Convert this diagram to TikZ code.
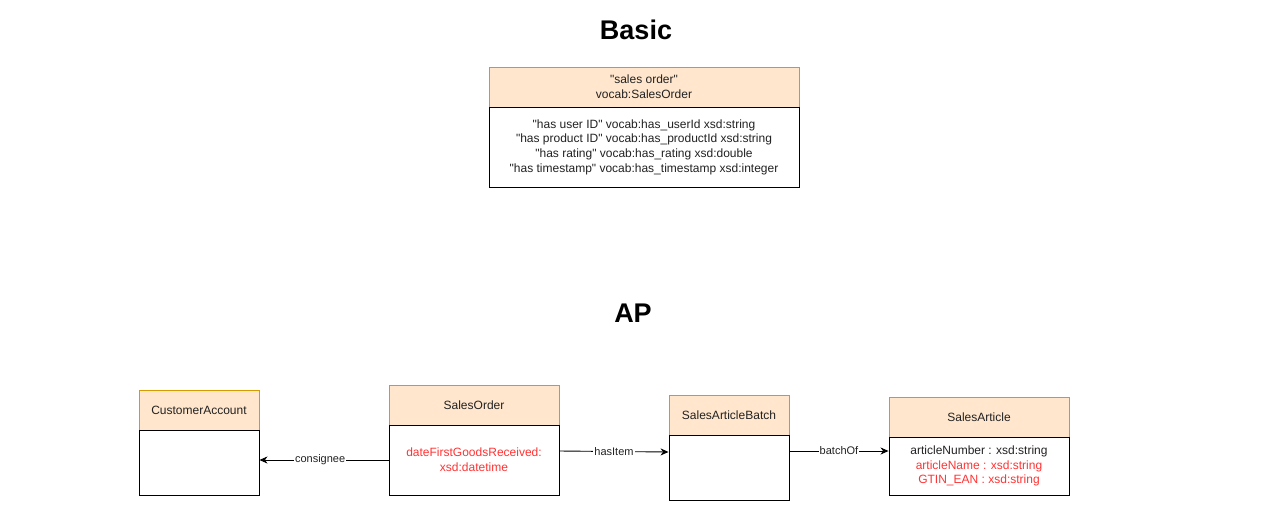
\documentclass[tikz,border=0pt]{standalone}
\usepackage{fontspec}
\newfontfamily\arialf{Liberation Sans}
\setmainfont{Liberation Sans}
\usetikzlibrary{arrows.meta}
\definecolor{hdrfill}{HTML}{FFE6CC}
\definecolor{hdrline}{HTML}{D79B00}
\definecolor{redtxt}{HTML}{FF3333}
\definecolor{txt}{HTML}{222222}
\begin{document}
\begin{tikzpicture}[x=1pt,y=-1pt,
  hdr/.style={draw=hdrline,fill=hdrfill,line width=0.9pt,inner sep=0pt,align=center,text=txt,
    font=\arialf\fontsize{12}{15}\selectfont},
  bodybox/.style={draw=black,fill=white,line width=0.9pt,inner sep=0pt,align=center,text=txt,
    font=\arialf\fontsize{12}{14.6}\selectfont},
  ttl/.style={font=\arialf\fontsize{27}{30}\selectfont\bfseries,text=black,inner sep=0pt},
  conn/.style={draw=black,line width=0.9pt,-{Stealth[length=8pt,width=7pt,inset=2.5pt]}},
  elab/.style={fill=white,inner sep=1pt,text=txt,font=\arialf\fontsize{11}{13}\selectfont}]
\useasboundingbox (0,0) rectangle (1280,531);

\node[ttl] (tbasic) at (636,30) {Basic};
\node[ttl] (tap) at (633,313) {AP};

% Basic
\node[hdr,minimum width=310pt,minimum height=40pt] (bh) at (644,87) {"sales order"\\vocab:SalesOrder};
\node[bodybox,minimum width=310pt,minimum height=80pt] (bb) at (644,147)
  {"has user ID" vocab:has\_userId xsd:string\\"has product ID" vocab:has\_productId xsd:string\\"has rating" vocab:has\_rating xsd:double\\"has timestamp" vocab:has\_timestamp xsd:integer};

% CustomerAccount
\node[hdr,minimum width=120pt,minimum height=40pt] (cah) at (199,410) {CustomerAccount};
\node[bodybox,minimum width=120pt,minimum height=65pt] (cab) at (199,462.5) {};

% SalesOrder
\node[hdr,minimum width=170pt,minimum height=40pt] (soh) at (474,405) {SalesOrder};
\node[bodybox,minimum width=170pt,minimum height=70pt,text=redtxt] (sob) at (474,460) {dateFirstGoodsReceived:\\xsd:datetime};

% SalesArticleBatch
\node[hdr,minimum width=120pt,minimum height=40pt] (sabh) at (729,415) {SalesArticleBatch};
\node[bodybox,minimum width=120pt,minimum height=65pt] (sabb) at (729,467.5) {};

% SalesArticle
\node[hdr,minimum width=180pt,minimum height=40pt] (sah) at (979,417) {SalesArticle};
\node[bodybox,minimum width=180pt,minimum height=58pt] (sab) at (979,466)
  {articleNumber : xsd:string\\\textcolor{redtxt}{articleName : xsd:string}\\\textcolor{redtxt}{GTIN\_EAN : xsd:string}};

% connectors
\draw[conn] (sob.west) -- node[elab,pos=0.53] {consignee} (cab.east |- sob.west);
\draw[conn] ([yshift=9pt]sob.east) -- node[elab] {hasItem} ([yshift=15.5pt]sabb.west);
\draw[conn] ([yshift=16.5pt]sabb.east) -- node[elab] {batchOf} ([yshift=15pt]sab.west);
\end{tikzpicture}
\end{document}
